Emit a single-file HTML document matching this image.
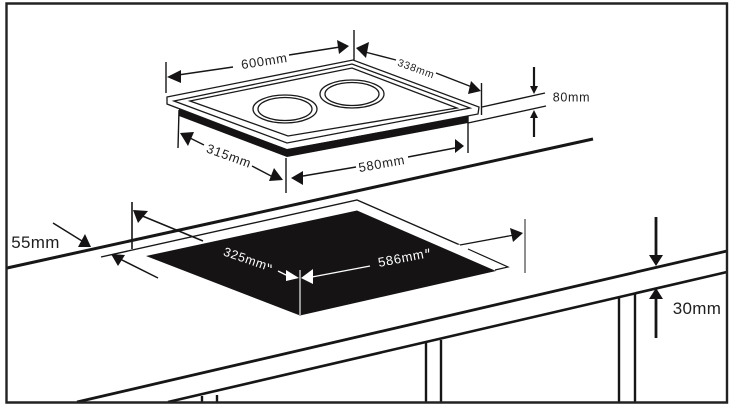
<!DOCTYPE html>
<html><head><meta charset="utf-8">
<style>
html,body{margin:0;padding:0;background:#fff;width:732px;height:409px;overflow:hidden}
svg{display:block}
text{font-family:"Liberation Sans",sans-serif;fill:#1e1e1e}
.w{fill:#fff}
.t{stroke:#1a1a1a;stroke-width:1.3;fill:none}
</style></head><body>
<svg width="732" height="409" viewBox="0 0 732 409" xmlns="http://www.w3.org/2000/svg">
<rect width="732" height="409" fill="#fff"/>
<!-- counter -->
<g fill="none" stroke="#161616">
<path d="M7 268L593 139" stroke-width="3"/>
<path d="M77 402L727 251" stroke-width="2.800"/>
<path d="M168 402L727 272" stroke-width="2.600"/>
<path d="M619 297V402M635 294V402M426 343V402M441 340V402M202 396V402M217 395V402" stroke-width="2.400"/>
</g>
<!-- cutout -->
<polygon points="146,256 357,210.500 496,271 300,315.500" fill="#151314"/>
<path d="M101 257L357 200L460 245" fill="none" stroke="#161616" stroke-width="1.400"/>
<path d="M468 249L508 267L495 270" fill="none" stroke="#161616" stroke-width="1.200"/>
<path d="M300 270V315" stroke="#ddd" stroke-width="1.300"/>
<path d="M525 219V273" stroke="#444" stroke-width="1.200"/>
<path d="M132 202V249" stroke="#161616" stroke-width="1.600"/>
<!-- white arrows -->
<path d="M447 248L460 245" stroke="#fff" stroke-width="1.300"/>
<path d="M312 277L370 266" stroke="#fff" stroke-width="1.300"/>
<polygon points="301,278 313,269 313,284" fill="#fff"/>
<path d="M278 271L290 277" stroke="#fff" stroke-width="1.300"/>
<polygon points="299,278 286,270 286,281" fill="#fff"/>
<path d="M460 245L514 235" stroke="#161616" stroke-width="1.300"/>
<polygon points="523,233 510,228 513,242" fill="#151314"/>
<!-- 55mm arrows -->
<path d="M140 215L203 241M118 258L158 278M53 223L82 241" stroke="#161616" stroke-width="1.500" fill="none"/>
<polygon points="133,210 148,211 138,223" fill="#151314"/>
<polygon points="111,254 125,255 118,266" fill="#151314"/>
<polygon points="91,247 85,234 78,247" fill="#151314"/>
<!-- hob -->
<g class="t">
<path d="M167 97L353 60L479 107L478 114L287 150L167 104Z" fill="#fff"/>
<path d="M174 101L352 64L470 108L287 143Z"/>
<path d="M190 101L352 68L457 108L288 136Z"/>
<ellipse cx="285" cy="109" rx="32" ry="14"/>
<ellipse cx="285" cy="109" rx="27" ry="11.500"/>
<ellipse cx="352" cy="94" rx="32" ry="14"/>
<ellipse cx="352" cy="94" rx="27" ry="11.500"/>
</g>
<polygon points="179,109 287,149 287,157 179,116" fill="#151314"/>
<polygon points="287,149 468,116 468,123 287,157" fill="#151314"/>
<!-- hob dims -->
<g stroke="#161616" stroke-width="1.400" fill="none">
<path d="M166 62V93M354 30V60M481.500 83V115M468 116V153M286 158V193M179 110L178 148"/>
<path d="M178 75L233 67M289 55L340 47"/>
<path d="M365 52L396 60M436 73L472 87"/>
<path d="M482 107L545 93M468 123L546 106"/>
<path d="M408 157L455 148M303 176L356 167"/>
<path d="M190 138L204 145M252 166L273 177"/>
</g>
<path d="M534 67V90M534 137V114" stroke="#161616" stroke-width="2.200"/>
<g fill="#151314">
<polygon points="167,77 181,70 181,83"/>
<polygon points="349,46 337,40 339,54"/>
<polygon points="356,48 369,42 366,58"/>
<polygon points="481,91 471,81 468,94"/>
<polygon points="534,94 530,86 538,86"/>
<polygon points="534,110 530,118 538,118"/>
<polygon points="464,146 455,139 455,153"/>
<polygon points="291,178 303,171 303,185"/>
<polygon points="180,133 194,132 188,146"/>
<polygon points="283,180 274,168 269,181"/>
<polygon points="656,266 649,255 663,255"/>
<polygon points="656,288 649,299 663,299"/>
</g>
<path d="M656 217V258M656 338V297" stroke="#161616" stroke-width="2.800"/>
<!-- labels -->
<g font-size="13" letter-spacing=".7" text-anchor="middle">
<text transform="translate(265,65.500) rotate(-9)">600mm</text>
<text transform="translate(415,72) rotate(20)" font-size="10.500">338mm</text>
<text transform="translate(571.500,101.500)" font-size="12.500">80mm</text>
<text transform="translate(382.500,168) rotate(-10)">580mm</text>
<text transform="translate(227.500,160) rotate(20)">315mm</text>
<text transform="translate(35.500,248)" font-size="17" letter-spacing=".3">55mm</text>
<text transform="translate(697,314)" font-size="17" letter-spacing=".3">30mm</text>
<text class="w" transform="translate(244,262.500) rotate(19)" font-size="12.500">325mm</text>
<text class="w" transform="translate(402,262.500) rotate(-11)" font-size="13">586mm</text>
</g>
<g stroke="#fff" stroke-width="1.200" fill="none">
<path d="M268.500 263.500V267M271 264.500V268"/>
<path d="M426 249V253M428.500 248.500V252.500"/>
</g>
<!-- frame -->
<path d="M6.500 3.500H727V402.500H6.500Z" fill="none" stroke="#222" stroke-width="2.400"/>
</svg>
</body></html>
